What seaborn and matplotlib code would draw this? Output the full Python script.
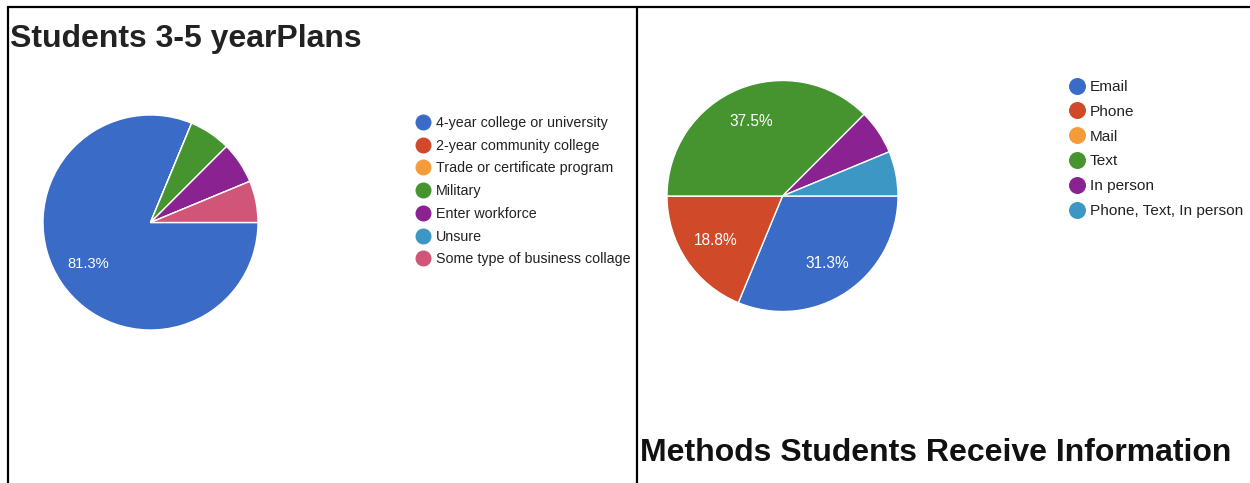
import matplotlib
matplotlib.use("Agg")
import matplotlib.pyplot as plt
from matplotlib.lines import Line2D
import seaborn as sns
from matplotlib import font_manager

sns.set_theme(style="white")
plt.rcParams['font.family'] = ['Liberation Sans', 'DejaVu Sans']

# ---- data ----
plan_labels = ["4-year college or university", "2-year community college",
               "Trade or certificate program", "Military", "Enter workforce",
               "Unsure", "Some type of business collage"]
plan_values = [13, 0, 0, 1, 1, 0, 1]
plan_colors = ["#3a6bc6", "#d04a2a", "#f59c3a", "#45942f", "#8a2391", "#3c97c4", "#d05578"]

method_labels = ["Email", "Phone", "Mail", "Text", "In person", "Phone, Text, In person"]
method_values = [5, 3, 0, 6, 1, 1]
method_colors = ["#3a6bc6", "#d04a2a", "#f59c3a", "#45942f", "#8a2391", "#3c97c4"]

title_left = "Students 3-5 yearPlans"
title_right = "Methods Students Receive Information"

W, H = 1250, 483
fig = plt.figure(figsize=(W / 100, H / 100), dpi=100)

names = {f.name for f in font_manager.fontManager.ttflist}
title_family = ['Liberation Sans Narrow', 'Liberation Sans'] if 'Liberation Sans Narrow' in names else ['Liberation Sans']
title_size = 28 if 'Liberation Sans Narrow' in names else 23


def pct(p):
    # slices under 10% carry no label, as in the source chart
    return "" if p < 10 else f"{p + 0.001:.1f}%"


def draw_pie(cx, cy, r, values, colors, fs):
    ax = fig.add_axes([(cx - r) / W, (H - cy - r) / H, 2 * r / W, 2 * r / H])
    ax.pie(values, colors=colors, startangle=0, counterclock=False,
           autopct=pct, pctdistance=0.7,
           wedgeprops=dict(edgecolor="white", linewidth=1.0),
           textprops=dict(color="white", fontsize=fs))
    ax.set_xlim(-1, 1)
    ax.set_ylim(-1, 1)
    ax.set_aspect("equal")
    ax.axis("off")
    return ax


draw_pie(150.5, 222.5, 107.5, plan_values, plan_colors, 10.6)
draw_pie(782.5, 196, 115.5, method_values, method_colors, 11.2)


def legend(labels, colors, x, y, spacing, fs, ms, pad):
    handles = [Line2D([], [], linestyle="none", marker="o", markersize=ms,
                      markerfacecolor=c, markeredgecolor=c) for c in colors]
    fig.legend(handles, labels, loc="upper left", bbox_to_anchor=(x / W, 1 - y / H),
               bbox_transform=fig.transFigure, frameon=False, fontsize=fs,
               handlelength=0.95, handletextpad=pad, borderpad=0, borderaxespad=0,
               labelspacing=spacing, labelcolor="#222222")


legend(plan_labels, plan_colors, 416, 116, 0.61, 10.3, 10.5, 0.45)
legend(method_labels, method_colors, 1070, 80, 0.70, 11.1, 11.2, 0.35)

fig.text(10 / W, 1 - 47 / H, title_left, family=title_family, fontsize=title_size,
         fontweight="bold", color="#222222", va="baseline", ha="left")
fig.text(640 / W, 1 - 461 / H, title_right, family=title_family, fontsize=title_size,
         fontweight="bold", color="#111111", va="baseline", ha="left")

# panel borders
lw = 1.6
fig.add_artist(Line2D([8 / W, 1.0], [1 - 7 / H, 1 - 7 / H], transform=fig.transFigure, color="black", lw=lw))
fig.add_artist(Line2D([8 / W, 8 / W], [0, 1 - 7 / H], transform=fig.transFigure, color="black", lw=lw))
fig.add_artist(Line2D([637 / W, 637 / W], [0, 1 - 7 / H], transform=fig.transFigure, color="black", lw=lw))

fig.savefig("out.png", dpi=100, facecolor="white")
